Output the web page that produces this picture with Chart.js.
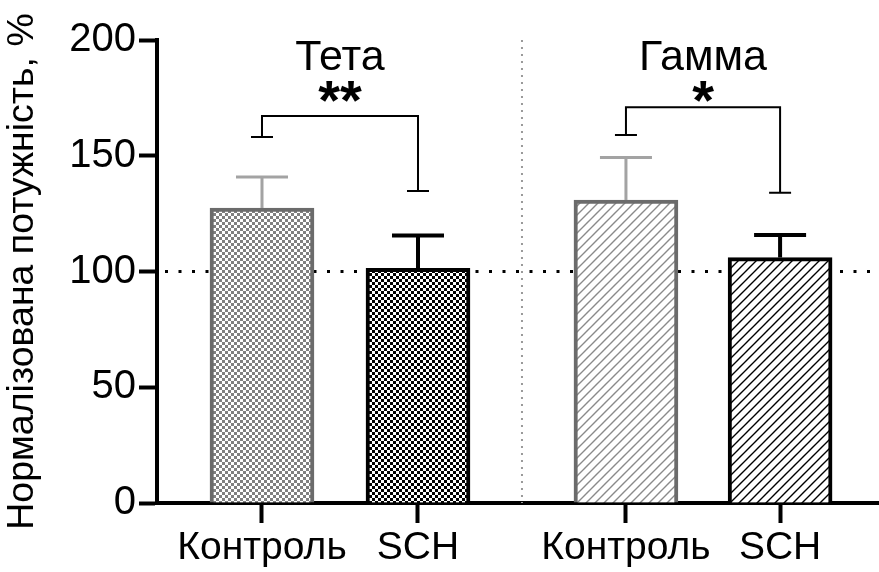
<!DOCTYPE html>
<html>
<head>
<meta charset="utf-8">
<script src="https://cdn.jsdelivr.net/npm/chart.js@4"></script>
<style>
  body { margin: 0; background: #fff; }
  canvas { display: block; }
</style>
</head>
<body>
<canvas id="chart" width="879" height="572"></canvas>
<script>
// data
const categories = ['Контроль', 'SCH', 'Контроль', 'SCH'];
const xPositions = [0, 1, 2.333, 3.321];
const meanValues = [127.4, 101.4, 130.9, 106.0];
const semValues = [13.4, 14.1, 18.3, 9.8];
const groupNames = ['Тета', 'Гамма'];
const stars = ['**', '*'];
// bracket: [top, left end, right end]
const brackets = [[167.2, 158.1, 134.8], [171.0, 159.0, 134.0]];
const yTicks = [0, 50, 100, 150, 200];
const refValue = 100;

const FONT = '"Liberation Sans", Arial, sans-serif';
const grey = '#6b6b6b';
const lightGrey = '#a3a3a3';

function checkerPattern(color) {
    const c = document.createElement('canvas');
    c.width = 6; c.height = 6;
    const g = c.getContext('2d');
    g.fillStyle = '#fff';
    g.fillRect(0, 0, 6, 6);
    g.fillStyle = color;
    g.fillRect(0, 0, 3, 3);
    g.fillRect(3, 3, 3, 3);
    return g.createPattern(c, 'repeat');
}

function hatchPattern(color) {
    const s = 9;
    const c = document.createElement('canvas');
    c.width = s; c.height = s;
    const g = c.getContext('2d');
    g.fillStyle = '#fff';
    g.fillRect(0, 0, s, s);
    g.strokeStyle = color;
    g.lineWidth = 1.4;
    g.beginPath();
    g.moveTo(-1, s + 1); g.lineTo(s + 1, -1);
    g.moveTo(-1, 1); g.lineTo(1, -1);
    g.moveTo(s - 1, s + 1); g.lineTo(s + 1, s - 1);
    g.stroke();
    return g.createPattern(c, 'repeat');
}

const fills = [checkerPattern('#808080'), checkerPattern('#000'), hatchPattern('#8a8a8a'), hatchPattern('#000')];
const borders = [grey, '#000', grey, '#000'];
const errColors = [lightGrey, '#000', lightGrey, '#000'];
const errWidths = [3, 4, 3, 4];

const decorPlugin = {
    id: 'decor',
    beforeDatasetsDraw(chart) {
        const { ctx, chartArea, scales: { x, y } } = chart;
        ctx.save();
        // reference line at 100
        ctx.strokeStyle = '#000';
        ctx.lineWidth = 3;
        ctx.setLineDash([3, 10.5]);
        ctx.beginPath();
        const yr = y.getPixelForValue(refValue);
        ctx.moveTo(chartArea.left + 8, yr);
        ctx.lineTo(chartArea.right, yr);
        ctx.stroke();
        // group separator
        ctx.strokeStyle = '#999';
        ctx.lineWidth = 2;
        ctx.setLineDash([2, 5]);
        const xs = x.getPixelForValue((xPositions[1] + xPositions[2]) / 2);
        ctx.beginPath();
        ctx.moveTo(xs, chartArea.top);
        ctx.lineTo(xs, chartArea.bottom);
        ctx.stroke();
        ctx.restore();
    },
    afterDatasetsDraw(chart) {
        const { ctx, chartArea, scales: { x, y } } = chart;
        ctx.save();
        // error bars (upper only)
        meanValues.forEach((m, i) => {
            const px = x.getPixelForValue(xPositions[i]);
            const y0 = y.getPixelForValue(m);
            const y1 = y.getPixelForValue(m + semValues[i]);
            ctx.strokeStyle = errColors[i];
            ctx.lineWidth = errWidths[i];
            ctx.beginPath();
            ctx.moveTo(px, y0);
            ctx.lineTo(px, y1);
            ctx.moveTo(px - 26, y1);
            ctx.lineTo(px + 26, y1);
            ctx.stroke();
        });
        // significance brackets
        ctx.strokeStyle = '#000';
        ctx.lineWidth = 2;
        brackets.forEach((b, g) => {
            const xl = x.getPixelForValue(xPositions[g * 2]);
            const xr = x.getPixelForValue(xPositions[g * 2 + 1]);
            const yt = y.getPixelForValue(b[0]);
            const yl = y.getPixelForValue(b[1]);
            const yrr = y.getPixelForValue(b[2]);
            ctx.beginPath();
            ctx.moveTo(xl, yl); ctx.lineTo(xl, yt); ctx.lineTo(xr, yt); ctx.lineTo(xr, yrr);
            ctx.moveTo(xl - 11, yl); ctx.lineTo(xl + 11, yl);
            ctx.moveTo(xr - 11, yrr); ctx.lineTo(xr + 11, yrr);
            ctx.stroke();

            const xc = (xl + xr) / 2;
            ctx.fillStyle = '#000';
            ctx.textAlign = 'center';
            ctx.textBaseline = 'alphabetic';
            ctx.font = '43px ' + FONT;
            ctx.fillText(groupNames[g], xc, chartArea.top + 30);
            ctx.font = 'bold 56px ' + FONT;
            ctx.fillText(stars[g], xc, chartArea.top + 79);
        });
        ctx.restore();
    }
};

new Chart(document.getElementById('chart'), {
    type: 'bar',
    data: {
        datasets: [{
            data: xPositions.map((v, i) => ({ x: v, y: meanValues[i] })),
            backgroundColor: fills,
            borderColor: borders,
            borderWidth: 4,
            barThickness: 104
        }]
    },
    options: {
        responsive: false,
        animation: false,
        layout: { padding: { top: 40, right: 0, left: 0, bottom: 0 } },
        plugins: { legend: { display: false }, tooltip: { enabled: false } },
        scales: {
            x: {
                type: 'linear',
                offset: false,
                min: -0.673,
                max: 3.955,
                afterBuildTicks(scale) {
                    scale.ticks = xPositions.map(v => ({ value: v }));
                },
                afterFit(scale) { scale.height = 69; },
                ticks: {
                    callback: (v, i) => categories[i],
                    autoSkip: false,
                    maxRotation: 0,
                    color: '#000',
                    font: { family: FONT, size: 39 },
                    padding: 2
                },
                grid: { offset: false, drawOnChartArea: false, tickLength: 20, tickWidth: 4, tickColor: '#000' },
                border: { width: 4, color: '#000' }
            },
            y: {
                min: 0,
                max: 200,
                afterBuildTicks(scale) {
                    scale.ticks = yTicks.map(v => ({ value: v }));
                },
                afterFit(scale) { scale.width = 157; },
                ticks: {
                    color: '#000',
                    font: { family: FONT, size: 40 },
                    padding: 3
                },
                grid: { drawOnChartArea: false, tickLength: 18, tickWidth: 4, tickColor: '#000' },
                border: { width: 4, color: '#000' },
                title: {
                    display: true,
                    text: 'Нормалізована потужність, %',
                    color: '#000',
                    font: { family: FONT, size: 37.5 },
                    padding: { top: 0, bottom: 2 }
                }
            }
        }
    },
    plugins: [decorPlugin]
});
</script>
</body>
</html>
